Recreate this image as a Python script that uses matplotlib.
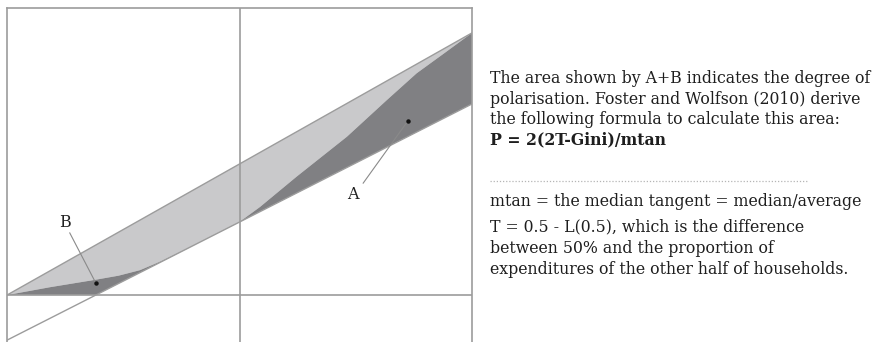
import matplotlib
matplotlib.use("Agg")
import matplotlib.pyplot as plt
import numpy as np

# ---- data ----
equality_x = [0.0, 1.0]
equality_y = [0.0, 1.0]

tangent_x = [0.0, 1.0]
tangent_y = [-0.172, 0.729]

curve_x = [0.0, 0.0925, 0.189, 0.24, 0.286, 0.33, 0.383, 0.42, 0.50,
           0.544, 0.623, 0.731, 0.817, 0.881, 0.94, 1.0]
curve_y = [0.0, 0.030, 0.058, 0.074, 0.095, 0.128, 0.174, 0.207, 0.279,
           0.336, 0.452, 0.604, 0.744, 0.846, 0.922, 1.0]

label_text = ["B", "A"]
label_xy = [(0.125, 0.26), (0.744, 0.365)]
line_start = [(0.135, 0.237), (0.766, 0.427)]
dot_xy = [(0.191, 0.046), (0.862, 0.664)]

text_lines = [
    "The area shown by A+B indicates the degree of",
    "polarisation. Foster and Wolfson (2010) derive",
    "the following formula to calculate this area:",
]
formula = "P = 2(2T-Gini)/mtan"
notes = [
    ["mtan = the median tangent = median/average"],
    ["T = 0.5 - L(0.5), which is the difference",
     "between 50% and the proportion of",
     "expenditures of the other half of households."],
]

# ---- figure ----
W, H = 876, 342
fig = plt.figure(figsize=(W / 100, H / 100), dpi=100)
ax = fig.add_axes([7 / W, 0, 465 / W, 334 / H])
ax.set_xlim(0, 1)
ax.set_ylim(-0.179, 1.095)

LIGHT = "#c9c9cb"
DARK = "#808083"
LINE = "#9c9c9c"

# envelope: tangent, floored at 0
t0, t1 = tangent_y
slope = (t1 - t0) / (tangent_x[1] - tangent_x[0])
x_cross = -t0 / slope
env_x = [1.0, x_cross, 0.0]
env_y = [t1, 0.0, 0.0]

# light region: between equality line and curve
ax.fill(list(equality_x) + curve_x[::-1], list(equality_y) + curve_y[::-1],
        color=LIGHT, lw=0, zorder=1)
# dark region: between curve and envelope
ax.fill(curve_x + env_x, curve_y + env_y, color=DARK, lw=0, zorder=1)

# reference lines
ax.axvline(0.5, color=LINE, lw=1.2, zorder=2)
ax.axhline(0.0, color=LINE, lw=1.2, zorder=2)
ax.plot(equality_x, equality_y, color=LINE, lw=1.0, zorder=3)
ax.plot(tangent_x, tangent_y, color=LINE, lw=1.0, zorder=3)

for lab, lxy, sxy, dxy in zip(label_text, label_xy, line_start, dot_xy):
    ax.text(lxy[0], lxy[1], lab, family="DejaVu Serif", fontsize=11.5,
            ha="center", va="baseline", color="#222222", zorder=5)
    ax.plot([sxy[0], dxy[0]], [sxy[1], dxy[1]], color="#8a8a8a", lw=0.8, zorder=4)
    ax.plot([dxy[0]], [dxy[1]], "o", color="#111111", ms=2.2, zorder=5)

ax.set_xticks([])
ax.set_yticks([])
for s in ["left", "right", "top"]:
    ax.spines[s].set_color(LINE)
    ax.spines[s].set_linewidth(1.2)
ax.spines["bottom"].set_visible(False)

# ---- text block ----
TX = 490 / W
FS = 11.3
fam = "DejaVu Serif"
col = "#1e1e1e"
baselines = [83, 104, 124]
for s, b in zip(text_lines, baselines):
    fig.text(TX, 1 - b / H, s, family=fam, fontsize=FS, color=col, va="baseline")
fig.text(TX, 1 - 144 / H, formula, family=fam, fontsize=FS, color=col,
         va="baseline", weight="bold")

fig.add_artist(plt.Line2D([TX, 808 / W], [1 - 181 / H, 1 - 181 / H],
                          color="#b5b5b5", lw=0.9, ls=(0, (1, 1.5))))

note_baselines = [[206], [231, 253, 274]]
for grp, bl in zip(notes, note_baselines):
    for s, b in zip(grp, bl):
        fig.text(TX, 1 - b / H, s, family=fam, fontsize=FS, color=col, va="baseline")

fig.savefig("out.png", dpi=100, facecolor="white")
